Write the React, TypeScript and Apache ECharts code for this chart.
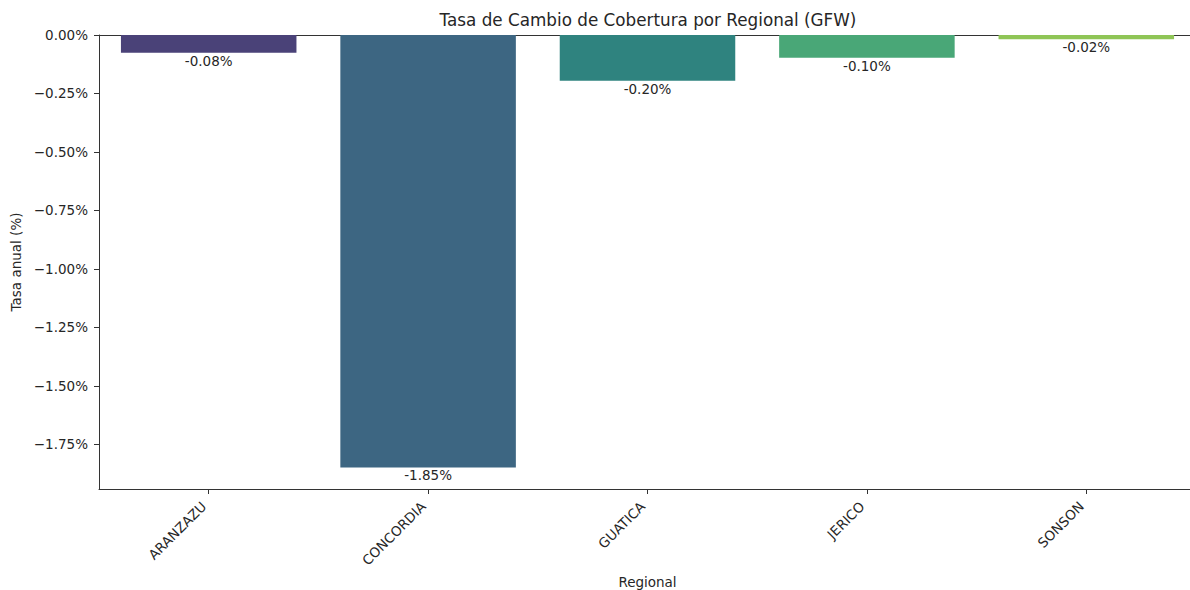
import React, { useEffect, useRef } from "react";
import * as echarts from "echarts";

const categories = ["ARANZAZU", "CONCORDIA", "GUATICA", "JERICO", "SONSON"];
const values = [-0.076, -1.848, -0.196, -0.097, -0.018];
const barColors = ["#4a4278", "#3d6682", "#2f837f", "#49a777", "#8fc556"];
const yTicks = [0, -0.25, -0.5, -0.75, -1.0, -1.25, -1.5, -1.75];
const titleText = "Tasa de Cambio de Cobertura por Regional (GFW)";
const xName = "Regional";
const yName = "Tasa anual (%)";

const FONT = "DejaVu Sans";
const TXT = "#262626";

export default function App() {
  const ref = useRef<HTMLDivElement>(null);
  useEffect(() => {
    document.body.style.margin = "0";
    const chart = echarts.init(ref.current!, null, { renderer: "svg" });
    const minVal = Math.min(...values);
    const yMin = minVal * 1.05;
    chart.setOption({
      animation: false,
      textStyle: { fontFamily: FONT },
      graphic: [
        {
          type: "text",
          x: 648,
          y: 20,
          style: {
            text: titleText,
            font: `16.8px "${FONT}"`,
            fill: TXT,
            textAlign: "center",
            textVerticalAlign: "middle",
          },
        },
      ],
      grid: {
        left: 99,
        right: -6,
        top: 35,
        bottom: 101,
        show: false,
        containLabel: false,
        outerBoundsMode: "none",
      },
      xAxis: [
        {
          type: "category",
          data: categories,
          boundaryGap: true,
          name: xName,
          nameLocation: "middle",
          nameGap: 86,
          nameTextStyle: { fontFamily: FONT, fontSize: 13.5, color: TXT },
          axisLine: { show: true, onZero: false, lineStyle: { color: "#333", width: 1 } },
          axisTick: { show: true, alignWithLabel: true, length: 5, lineStyle: { color: "#333" } },
          axisLabel: {
            rotate: 45,
            fontFamily: FONT,
            fontSize: 13.5,
            color: TXT,
            margin: 10,
            padding: [0, 7, 0, 0],
            interval: 0,
          },
          splitLine: { show: false },
        },
        {
          type: "category",
          data: categories,
          position: "top",
          axisLine: { show: true, onZero: false, lineStyle: { color: "#333", width: 1 } },
          axisTick: { show: false },
          axisLabel: { show: false },
          splitLine: { show: false },
        },
      ],
      yAxis: {
        type: "value",
        min: yMin,
        max: 0,
        name: yName,
        nameLocation: "middle",
        nameGap: 73,
        nameRotate: 90,
        nameTextStyle: { fontFamily: FONT, fontSize: 13.5, color: TXT },
        axisLine: { show: true, lineStyle: { color: "#333", width: 1 } },
        axisTick: { show: true, length: 5, lineStyle: { color: "#333" }, customValues: yTicks },
        axisLabel: {
          customValues: yTicks,
          fontFamily: FONT,
          fontSize: 13.5,
          color: TXT,
          margin: 11,
          formatter: (v: number) =>
            (v < -1e-9 ? "\u2212" : "") + Math.abs(v).toFixed(2) + "%",
        },
        splitLine: { show: false },
      },
      series: [
        {
          type: "bar",
          xAxisIndex: 0,
          barWidth: "80%",
          data: values.map((v, i) => ({
            value: v,
            itemStyle: { color: barColors[i] },
          })),
          label: {
            show: true,
            position: "bottom",
            distance: 1,
            fontFamily: FONT,
            fontSize: 13.5,
            color: TXT,
            formatter: (p: any) => p.value.toFixed(2) + "%",
          },
        },
      ],
    });
    return () => chart.dispose();
  }, []);
  return (
    <div
      ref={ref}
      style={{ position: "absolute", left: 0, top: 0, width: 1190, height: 590, background: "#fff" }}
    />
  );
}
